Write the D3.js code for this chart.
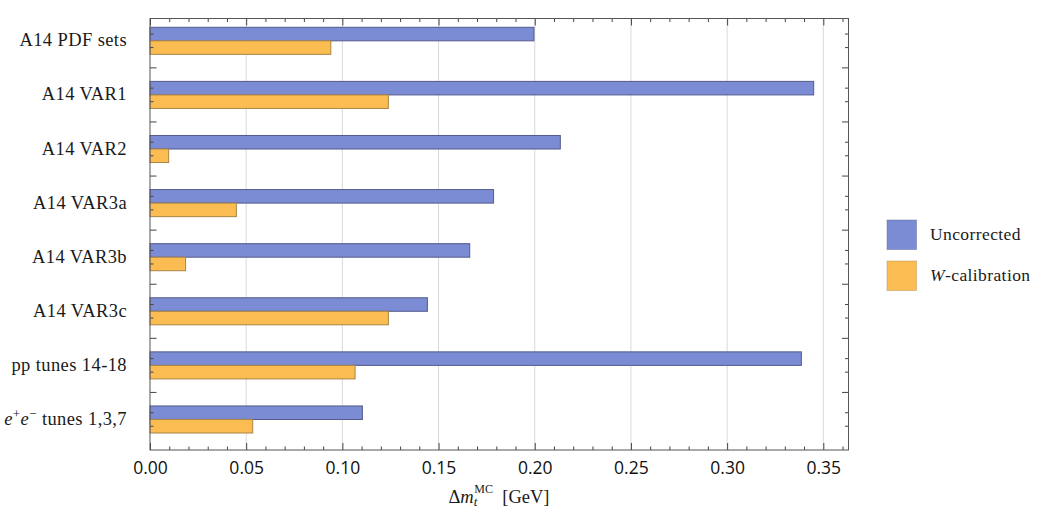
<!DOCTYPE html>
<html>
<head>
<meta charset="utf-8">
<script src="https://cdn.jsdelivr.net/npm/d3@7"></script>
<style>
  body { margin: 0; background: #fff; }
  svg text { fill: #1a1a1a; }
  .serif { font-family: 'Liberation Serif', 'Times New Roman', 'DejaVu Serif', serif; }
  .sans { font-family: 'Open Sans', sans-serif; }
</style>
</head>
<body>
<div id="chart"></div>
<script>
// chart data
const categories = ['A14 PDF sets', 'A14 VAR1', 'A14 VAR2', 'A14 VAR3a', 'A14 VAR3b', 'A14 VAR3c', 'pp tunes 14-18', 'ee tunes 1,3,7'];
const uncorrected = [0.1996, 0.345, 0.2133, 0.1786, 0.1662, 0.1442, 0.3386, 0.1104];
const wCalibration = [0.094, 0.1239, 0.0097, 0.0449, 0.0185, 0.1239, 0.1066, 0.0534];
const seriesNames = ['Uncorrected', 'W-calibration'];
const xTicks = [0, 0.05, 0.1, 0.15, 0.2, 0.25, 0.3, 0.35];
const xMinorTicks = d3.range(0, 37).map((i) => i / 100);

const width = 1048;
const height = 513;
const frame = { left: 150, right: 848.5, top: 18.5, bottom: 450 };
const colors = ['#7b8bd4', '#fbbd52'];
const edges = ['#545b8c', '#a98545'];

const svg = d3.select('#chart').append('svg')
  .attr('width', width)
  .attr('height', height);

const xScale = d3.scaleLinear().domain([0, 0.3631]).range([frame.left, frame.right]);
const yScale = d3.scaleBand().domain(categories).range([27.3, 433]).paddingInner(0.5).paddingOuter(0);
const bw = yScale.bandwidth();
const step = yScale.step();

// gridlines
svg.append('g')
  .selectAll('line')
  .data(xTicks.slice(1))
  .join('line')
  .attr('x1', (d) => xScale(d)).attr('x2', (d) => xScale(d))
  .attr('y1', frame.top).attr('y2', frame.bottom)
  .attr('stroke', '#d9d9d9').attr('stroke-width', 1);

// bars
const rows = categories.map((c, i) => ({ c, vals: [uncorrected[i], wCalibration[i]] }));
const groups = svg.append('g').selectAll('g').data(rows).join('g')
  .attr('transform', (d) => `translate(0,${yScale(d.c)})`);
groups.selectAll('rect')
  .data((d) => d.vals)
  .join('rect')
  .attr('x', xScale(0))
  .attr('y', (d, j) => j * bw / 2)
  .attr('width', (d) => xScale(d) - xScale(0))
  .attr('height', bw / 2)
  .attr('fill', (d, j) => colors[j])
  .attr('stroke', (d, j) => edges[j])
  .attr('stroke-width', 1);

// frame axes with inward ticks
function addX(pos, y, withLabels) {
  const axisFn = pos === 'bottom' ? d3.axisBottom : d3.axisTop;
  const g = svg.append('g').attr('transform', `translate(0,${y})`);
  g.call(axisFn(xScale)
    .tickValues(xMinorTicks.filter((t) => !xTicks.some((m) => Math.abs(m - t) < 1e-9)))
    .tickSize(-3.5).tickFormat(''));
  g.select('.domain').remove();
  const g2 = svg.append('g').attr('transform', `translate(0,${y})`);
  g2.call(axisFn(xScale).tickValues(xTicks).tickSize(-7)
    .tickFormat(withLabels ? d3.format('.2f') : ''));
  g2.select('.domain').remove();
  g.selectAll('line').attr('stroke', '#444');
  g2.selectAll('line').attr('stroke', '#444');
  return g2;
}
const xb = addX('bottom', frame.bottom, true);
xb.attr('font-family', null).attr('font-size', null);
xb.selectAll('text')
  .attr('y', 0).attr('dy', 0)
  .attr('transform', 'translate(0,24)')
  .attr('class', 'sans')
  .attr('font-size', 17.5)
  .style('fill', '#111');
addX('top', frame.top, false);

// y ticks: bar centres and group separators
const yMinor = categories.flatMap((c) => [yScale(c) + bw / 4, yScale(c) + 3 * bw / 4]);
const ySep = categories.slice(0, -1).map((c) => yScale(c) + bw + (step - bw) / 2);
[[frame.left, 1], [frame.right, -1]].forEach(([x0, dir]) => {
  svg.append('g').selectAll('line').data(yMinor).join('line')
    .attr('x1', x0).attr('x2', x0 + dir * 3.5)
    .attr('y1', (d) => d).attr('y2', (d) => d)
    .attr('stroke', '#444');
  svg.append('g').selectAll('line').data(ySep).join('line')
    .attr('x1', x0).attr('x2', x0 + dir * 6.5)
    .attr('y1', (d) => d).attr('y2', (d) => d)
    .attr('stroke', '#444');
});

// frame
svg.append('rect')
  .attr('x', frame.left).attr('y', frame.top)
  .attr('width', frame.right - frame.left).attr('height', frame.bottom - frame.top)
  .attr('fill', 'none').attr('stroke', '#555').attr('stroke-width', 1);

// category labels
const labels = svg.append('g')
  .attr('class', 'serif')
  .attr('font-size', 18.5)
  .selectAll('text').data(categories).join('text')
  .attr('x', 127)
  .attr('y', (d) => yScale(d) + bw / 2 + 5.5)
  .attr('text-anchor', 'end')
  .attr('letter-spacing', 0.4);
labels.each(function (d) {
  const t = d3.select(this);
  if (d.startsWith('ee')) {
    t.append('tspan').attr('font-style', 'italic').text('e');
    t.append('tspan').attr('font-size', 13).attr('dy', -7).text('+');
    t.append('tspan').attr('font-style', 'italic').attr('dy', 7).text('e');
    t.append('tspan').attr('font-size', 13).attr('dy', -7).text('\u2212');
    t.append('tspan').attr('dy', 7).text('\u00a0' + d.slice(3));
  } else {
    t.text(d);
  }
});

// axis title
const title = svg.append('text')
  .attr('class', 'serif')
  .attr('x', 499).attr('y', 502.5)
  .attr('text-anchor', 'middle')
  .attr('font-size', 18.5);
title.append('tspan').text('\u0394');
title.append('tspan').attr('font-style', 'italic').text('m');
title.append('tspan').attr('font-style', 'italic').attr('font-size', 13).attr('dy', 3).text('t');
title.append('tspan').attr('font-size', 12).attr('dx', -3).attr('dy', -13).text('MC');
title.append('tspan').attr('dy', 10).text('\u00a0\u00a0[GeV]');

// legend
const legend = svg.append('g').attr('transform', 'translate(887,220)');
seriesNames.forEach((name, i) => {
  const g = legend.append('g').attr('transform', `translate(0,${i * 41})`);
  g.append('rect')
    .attr('width', 29.5).attr('height', 29.5)
    .attr('fill', colors[i]).attr('stroke', edges[i]).attr('stroke-opacity', 0.4);
  const t = g.append('text')
    .attr('class', 'serif')
    .attr('x', 43).attr('y', 19.5)
    .attr('font-size', 17.5)
    .attr('letter-spacing', 0.4);
  if (name.startsWith('W')) {
    t.append('tspan').attr('font-style', 'italic').text('W');
    t.append('tspan').text(name.slice(1));
  } else {
    t.text(name);
  }
});
</script>
</body>
</html>
